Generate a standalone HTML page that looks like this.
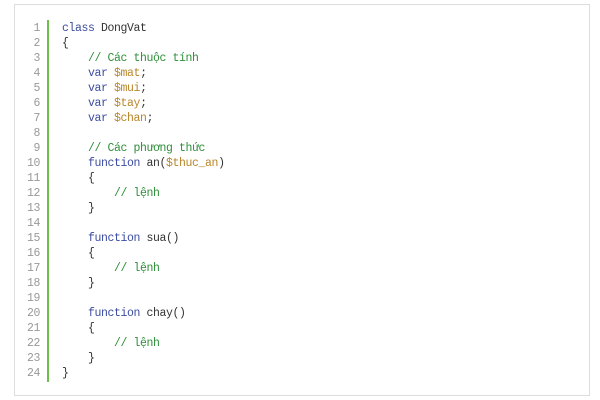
<!DOCTYPE html>
<html><head><meta charset="utf-8"><style>
body{margin:0;width:600px;height:400px;background:#fff;position:relative;overflow:hidden}
.box{position:absolute;left:14px;top:4px;width:576px;height:392px;border:1px solid #ddd;box-sizing:border-box}
.bar{position:absolute;left:47px;top:20px;width:2px;height:362px;background:#6cc04a}
.ln{position:absolute;left:14px;width:26px;text-align:right;color:#999;font:11.5px "Liberation Mono",monospace;letter-spacing:-0.4px}
.cd{position:absolute;left:62px;white-space:pre;color:#333;font:11.5px "Liberation Mono",monospace;letter-spacing:-0.4px}
.k{color:#3c4ca0}.v{color:#b8862b}.c{color:#2f8f3a}
</style></head><body>
<div class="box"></div><div class="bar"></div>
<div id="c"></div>
<script>
var L=['<span class="k">class</span> DongVat','{','    <span class="c">// Các thuộc tính</span>','    <span class="k">var</span> <span class="v">$mat</span>;','    <span class="k">var</span> <span class="v">$mui</span>;','    <span class="k">var</span> <span class="v">$tay</span>;','    <span class="k">var</span> <span class="v">$chan</span>;','','    <span class="c">// Các phương thức</span>','    <span class="k">function</span> an(<span class="v">$thuc_an</span>)','    {','        <span class="c">// lệnh</span>','    }','','    <span class="k">function</span> sua()','    {','        <span class="c">// lệnh</span>','    }','','    <span class="k">function</span> chay()','    {','        <span class="c">// lệnh</span>','    }','}'];
var h='';for(var i=0;i<24;i++){var t=22+i*15;h+='<div class="ln" style="top:'+t+'px">'+(i+1)+'</div><div class="cd" style="top:'+t+'px">'+L[i]+'</div>';}
document.getElementById('c').innerHTML=h;
</script>
</body></html>
